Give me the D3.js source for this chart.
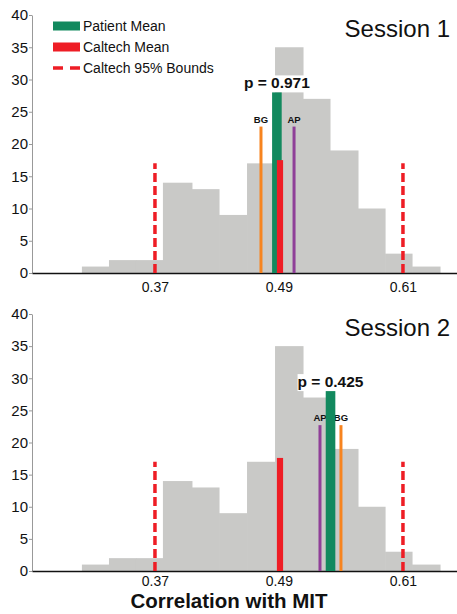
<!DOCTYPE html>
<html><head><meta charset="utf-8">
<script src="https://cdn.jsdelivr.net/npm/d3@7"></script>
<style>body{margin:0;background:#fff}svg{display:block;font-family:"Liberation Sans",Arial,Helvetica,sans-serif}</style>
</head><body><svg id="c" width="457" height="614"></svg>
<script>
// ---- data ----
const binEdges = [0.2993,0.3255,0.3516,0.3777,0.4058,0.4320,0.4591,0.4862,0.5133,0.5394,0.5665,0.5927,0.6188,0.6459];
const caltechCounts = [1,2,2,14,13,9,17,35,27,19,10,3,1];
const sessions = ["Session 1","Session 2"];
const boundsValues = [0.37, 0.61];
const boundsHeight = 17;
const patientMean = [0.488, 0.5399];
const patientHeight = [28, 28];
const caltechMean = [0.491, 0.491];
const caltechHeight = [17.5, 17.6];
const bgValue = [0.4726, 0.550];
const apValue = [0.5046, 0.5297];
const subjectHeight = [22.7, 22.7];
const pValues = ["p = 0.971", "p = 0.425"];
const xTicks = [0.37, 0.49, 0.61];
const yTicks = [0,5,10,15,20,25,30,35,40];
const legendLabels = ["Patient Mean","Caltech Mean","Caltech 95% Bounds"];
const xTitle = "Correlation with MIT";

// ---- styles ----
const C = {grey:"#c9c9c7", green:"#12895e", red:"#ee1d25", orange:"#f7841f", purple:"#8f3f98"};
const svg = d3.select("#c");
const x = d3.scaleLinear().domain([0.251, 0.6623]).range([32, 457]);
const panels = [{y0:273, y1:15, lab:292}, {y0:571, y1:314, lab:586}];

panels.forEach((P, i) => {
  const y = d3.scaleLinear().domain([0,40]).range([P.y0, P.y1]);
  const g = svg.append("g");
  // histogram
  g.selectAll("rect.bar").data(caltechCounts).join("rect").attr("class","bar")
    .attr("x", (d,j) => x(binEdges[j]))
    .attr("width", (d,j) => x(binEdges[j+1]) - x(binEdges[j]) + 0.5)
    .attr("y", d => y(d)).attr("height", d => y(0) - y(d))
    .attr("fill", C.grey);
  // y axis
  const ya = g.append("g").attr("transform", `translate(${x.range()[0]},0)`)
    .call(d3.axisLeft(y).tickValues(yTicks).tickSize(3).tickPadding(1).tickSizeOuter(0));
  ya.select(".domain").attr("stroke", "#999");
  ya.selectAll(".tick line").attr("stroke", "#999");
  ya.selectAll(".tick text").attr("font-size", 15).attr("fill", "#111")
    .attr("font-family", '"Liberation Sans",Arial,sans-serif');
  // x axis
  const xa = g.append("g").attr("transform", `translate(0,${P.y0})`)
    .call(d3.axisBottom(x).tickValues(xTicks).tickSize(0).tickFormat(d3.format(".2f")));
  xa.select(".domain").attr("stroke", "#111").attr("stroke-width", 1.6);
  xa.selectAll(".tick text").attr("font-size", 14).attr("fill", "#111")
    .attr("font-family", '"Liberation Sans",Arial,sans-serif')
    .attr("dy", null).attr("y", P.lab - P.y0);
  // bounds
  g.selectAll("line.bound").data(boundsValues).join("line").attr("class","bound")
    .attr("x1", d => x(d)).attr("x2", d => x(d))
    .attr("y1", y(0)).attr("y2", y(boundsHeight))
    .attr("stroke", C.red).attr("stroke-width", 3.5).attr("stroke-dasharray", "9,4");
  // subjects
  const subj = [{v:bgValue[i], c:C.orange, t:"BG"}, {v:apValue[i], c:C.purple, t:"AP"}];
  subj.forEach(s => {
    g.append("line").attr("x1", x(s.v)).attr("x2", x(s.v))
      .attr("y1", y(0)).attr("y2", y(subjectHeight[i]))
      .attr("stroke", s.c).attr("stroke-width", 3);
    g.append("text").attr("x", x(s.v)).attr("y", y(subjectHeight[i]) - 4)
      .attr("text-anchor", "middle").attr("font-size", 9.5).attr("font-weight", "bold")
      .attr("fill", "#111").text(s.t);
  });
  // p-value label with white background
  const bgRect = g.append("rect").attr("fill", "#fff");
  const pt = g.append("text").attr("x", x(patientMean[i]))
    .attr("y", y(patientHeight[i]) - 4).attr("text-anchor", "middle")
    .attr("font-size", 15.5).attr("font-weight", "bold").attr("fill", "#111").text(pValues[i]);
  const bb = pt.node().getBBox();
  bgRect.attr("x", bb.x).attr("y", bb.y + 1).attr("width", bb.width)
    .attr("height", y(patientHeight[i]) - bb.y - 1);
  // patient mean
  g.append("rect").attr("x", x(patientMean[i]) - 4.8).attr("width", 9.6)
    .attr("y", y(patientHeight[i])).attr("height", y(0) - y(patientHeight[i]))
    .attr("fill", C.green);
  // caltech mean
  g.append("rect").attr("x", x(caltechMean[i]) - 3.1).attr("width", 6.2)
    .attr("y", y(caltechHeight[i])).attr("height", y(0) - y(caltechHeight[i]))
    .attr("fill", C.red);
  // session label
  g.append("text").attr("x", 450).attr("y", P.y1 + 22).attr("text-anchor", "end")
    .attr("font-size", 24).attr("fill", "#111").text(sessions[i]);
});

// legend
const lg = svg.append("g");
legendLabels.forEach((t, k) => {
  const cy = 26 + k * 21;
  if (k === 0) lg.append("rect").attr("x", 53).attr("y", cy - 4.5).attr("width", 27).attr("height", 9).attr("fill", C.green);
  if (k === 1) lg.append("rect").attr("x", 53).attr("y", cy - 4.5).attr("width", 27).attr("height", 9).attr("fill", C.red);
  if (k === 2) lg.append("line").attr("x1", 53).attr("x2", 80).attr("y1", cy).attr("y2", cy)
    .attr("stroke", C.red).attr("stroke-width", 3.5).attr("stroke-dasharray", "10,7");
  lg.append("text").attr("x", 83).attr("y", cy + 5).attr("font-size", 14).attr("fill", "#111").text(t);
});

svg.append("text").attr("x", 229).attr("y", 608).attr("text-anchor", "middle")
  .attr("font-size", 20.5).attr("font-weight", "bold").attr("fill", "#111").text(xTitle);
</script></body></html>
